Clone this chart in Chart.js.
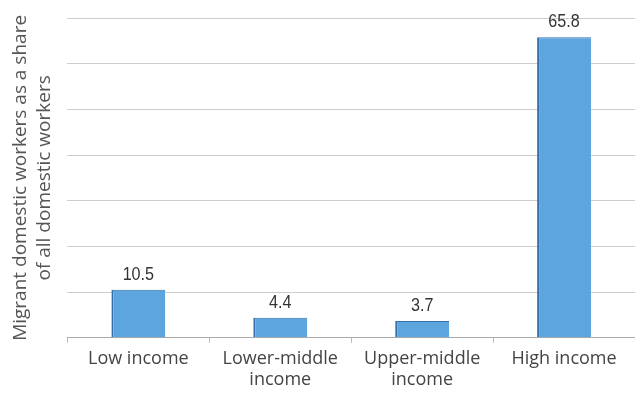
<!DOCTYPE html>
<html>
<head>
<meta charset="utf-8">
<script src="https://cdn.jsdelivr.net/npm/chart.js@4/dist/chart.umd.min.js"></script>
<style>
html,body{margin:0;padding:0;background:#fff;}
#wrap{width:635px;height:405px;position:relative;}
</style>
</head>
<body>
<div id="wrap"><canvas id="c"></canvas></div>
<script>
const categories = [["Low income"], ["Lower-middle", "income"], ["Upper-middle", "income"], ["High income"]];
const values = [10.5, 4.4, 3.7, 65.8];
const valueLabels = ["10.5", "4.4", "3.7", "65.8"];
const yTitle = ["Migrant domestic workers as a share", "of all domestic workers"];

const labelPlugin = {
  id: 'valLabels',
  afterDatasetsDraw(chart) {
    const ctx = chart.ctx;
    const meta = chart.getDatasetMeta(0);
    meta.data.forEach((bar, i) => {
      ctx.save();
      ctx.font = '19px "Liberation Sans", Arial, sans-serif';
      ctx.fillStyle = '#333';
      ctx.textAlign = 'center';
      ctx.textBaseline = 'alphabetic';
      ctx.translate(bar.x, bar.y - 10);
      ctx.scale(0.85, 1);
      ctx.fillText(valueLabels[i], 0, 0);
      ctx.restore();
    });
  }
};

new Chart(document.getElementById('c'), {
  type: 'bar',
  data: {
    labels: categories,
    datasets: [{
      data: values,
      backgroundColor: '#5da5de',
      borderColor: '#3570a8',
      borderWidth: {left: 2, top: 1, right: 0, bottom: 0},
      borderSkipped: false,
      barPercentage: 0.76,
      categoryPercentage: 0.5
    }]
  },
  options: {
    responsive: true,
    maintainAspectRatio: false,
    animation: false,
    layout: {padding: {top: 18, right: 0, left: 8, bottom: 9}},
    plugins: {legend: {display: false}, tooltip: {enabled: false}},
    scales: {
      x: {
        grid: {offset: true, drawOnChartArea: false, drawTicks: true, tickLength: 5, color: '#bbb'},
        border: {display: true, color: '#aaa', width: 1},
        ticks: {color: '#444', font: {family: '"Open Sans", sans-serif', size: 18, lineHeight: 1.2}, padding: 5, maxRotation: 0}
      },
      y: {
        min: 0, max: 70,
        ticks: {display: false, stepSize: 10},
        grid: {color: '#d0cccc', drawTicks: false, lineWidth: 1},
        border: {display: false},
        title: {
          display: true,
          text: yTitle,
          color: '#555',
          font: {family: '"Open Sans", sans-serif', size: 19, lineHeight: 1.3},
          padding: {top: 0, bottom: 10}
        }
      }
    }
  },
  plugins: [labelPlugin]
});
</script>
</body>
</html>
